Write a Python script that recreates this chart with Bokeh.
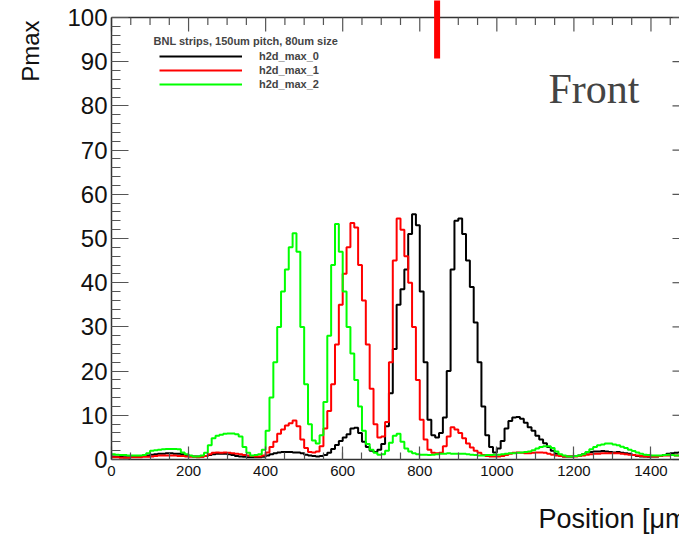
import numpy as np
from math import pi
from bokeh.plotting import figure
from bokeh.models import (LinearAxis, SingleIntervalTicker, Label, Legend, LegendItem, Range1d)
from bokeh.embed import file_html
from bokeh.resources import INLINE

# ---------------- data ----------------
bin_width = 10
x_start = 0
black_vals = [
    0.7,0.6,0.6,0.5,0.5,0.6,0.6,0.7,0.8,0.9,
    1.1,1.2,1.3,1.3,1.4,1.4,1.3,1.3,1.2,1.0,
    0.8,0.7,0.7,0.7,0.8,1.0,1.2,1.3,1.3,1.3,
    1.2,1.0,0.8,0.7,0.6,0.5,0.5,0.5,0.5,0.6,
    0.9,1.2,1.4,1.6,1.7,1.7,1.7,1.6,1.6,1.4,
    1.1,0.9,0.8,0.7,0.8,1.0,1.5,2.4,3.3,4.2,
    5.0,5.7,7.0,7.2,6.0,4.0,2.8,2.0,1.7,2.2,
    3.5,7.5,15,25,35,38.5,43,51,55.5,53,
    38,22,9,5.5,5,6,9.5,20,43,54,
    54.5,51,45,39,31,22,12,5.5,2.8,1.6,
    2.5,4.2,7.0,8.7,9.5,9.6,9.2,8.3,7.3,6.5,
    5.4,4.5,3.7,2.8,2.0,1.3,0.9,0.7,0.7,0.7,
    0.8,0.9,1.2,1.6,1.7,1.8,1.8,1.9,1.8,1.7,
    1.6,1.7,1.5,1.4,1.3,1.0,0.8,0.7,0.7,0.6,
    0.7,0.7,0.8,1.0,1.3,1.4,1.5,1.6,
]
red_vals = [
    0.5,0.5,0.4,0.4,0.4,0.5,0.5,0.5,0.6,0.6,
    0.7,0.8,0.9,0.9,0.9,0.9,0.9,0.8,0.8,0.7,
    0.6,0.6,0.5,0.6,0.8,1.2,1.5,1.6,1.5,1.6,
    1.5,1.4,1.3,1.2,1.0,0.9,0.8,0.7,0.7,0.9,
    1.6,2.8,4.0,5.8,6.8,7.7,8.2,8.8,7.5,4.5,
    2.6,1.7,1.6,1.8,3.0,7.0,11,17,26,35,
    42,48,53.5,52.5,44,36,26,16,8,5,
    5.2,8.5,22,45,54.5,52,46,40,30,18,
    9,4.5,2.2,1.5,1.4,1.5,3.0,5.2,7.3,6.8,
    6.0,4.8,3.6,2.7,2.0,1.5,1.0,0.8,0.7,0.7,
    0.7,0.8,1.0,1.3,1.5,1.6,1.5,1.4,1.4,1.5,
    1.6,1.6,1.5,1.3,1.1,0.9,0.8,0.7,0.7,0.7,
    0.7,0.8,0.9,1.1,1.2,1.3,1.3,1.4,1.4,1.4,
    1.4,1.4,1.3,1.2,1.1,1.0,0.9,0.8,0.7,0.7,
    0.7,0.7,0.8,0.9,0.9,1.0,0.9,0.9,
]
green_vals = [
    1.2,1.1,1.0,1.0,0.9,0.9,0.9,0.9,1.0,1.4,
    2.0,2.1,2.2,2.3,2.4,2.4,2.4,2.3,1.6,1.2,
    0.9,0.7,0.7,0.9,1.5,3.2,4.8,5.4,5.6,5.8,
    5.9,5.9,5.7,5.2,2.8,1.5,0.9,1.0,1.2,2.2,
    6.5,14,22,30,38,43,48,51.2,47,30,
    17,8,4.3,3.6,5.5,13,28,44,53.3,47,
    38,30,24,18,12,6.5,3.5,2.2,1.5,1.1,
    1.2,2.0,3.8,5.4,5.8,4.0,2.5,1.8,1.4,1.2,
    1.1,1.1,1.0,1.1,1.2,1.3,1.3,1.4,1.3,1.3,
    1.3,1.3,1.2,1.1,1.0,0.9,0.9,1.0,1.0,1.1,
    1.1,1.2,1.3,1.4,1.4,1.5,1.6,1.7,1.8,2.1,
    2.5,2.8,3.0,3.0,2.6,1.8,1.2,0.9,0.7,0.7,
    0.8,0.9,1.2,1.7,2.3,2.8,3.2,3.4,3.6,3.6,
    3.4,3.2,2.9,2.6,2.2,1.9,1.6,1.3,1.1,1.0,
    0.9,0.9,0.9,1.0,1.1,1.0,0.9,0.9,
]
series_names = ["h2d_max_0", "h2d_max_1", "h2d_max_2"]
series_colors = ["#000000", "#ff0000", "#00ff00"]
legend_title = "BNL strips, 150um pitch, 80um size"
x_label = "Position [μm]"
y_label = "Pmax"
tag_text = "Front"
marker_x = 845
marker_y = [90.7, 104]
x_axis_span = [0, 1500]
y_axis_span = [0, 100]

# ---------------- figure (frame = whole canvas, axes fixed in data space) ----------------
PX_X = 578 / 1500.0          # pixels per x unit
PX_Y = 442 / 100.0           # pixels per y unit
X0, Y0 = 111, 459            # pixel position of the data origin
W, H = 679, 536
x_rng = Range1d(-X0 / PX_X, (W - X0) / PX_X)
y_rng = Range1d(-(H - Y0) / PX_Y, Y0 / PX_Y)

p = figure(width=W, height=H, output_backend="svg", toolbar_location=None,
           x_range=x_rng, y_range=y_rng,
           min_border_left=0, min_border_right=0, min_border_top=0, min_border_bottom=0,
           x_axis_location=None, y_axis_location=None)
p.grid.visible = False
p.outline_line_color = None
p.background_fill_color = "white"
p.border_fill_color = "white"

AX_COL = "#333333"
TK_COL = "#555555"

def style(ax, tin, mtin):
    ax.major_tick_in = tin
    ax.major_tick_out = 0
    ax.minor_tick_in = mtin
    ax.minor_tick_out = 0
    ax.axis_line_color = AX_COL
    ax.axis_line_width = 1.5
    ax.major_tick_line_color = TK_COL
    ax.minor_tick_line_color = TK_COL
    ax.major_tick_line_width = 1.2
    ax.minor_tick_line_width = 1.2
    ax.major_label_text_font = "Liberation Sans"
    ax.major_label_text_color = "#111111"

bottom = LinearAxis(ticker=SingleIntervalTicker(interval=200, num_minor_ticks=4),
                    fixed_location=0, bounds=tuple(x_axis_span))
style(bottom, 13, 7)
bottom.major_label_text_font_size = "15px"
bottom.major_label_standoff = 6
p.add_layout(bottom, "below")

left = LinearAxis(ticker=SingleIntervalTicker(interval=10, num_minor_ticks=5),
                  fixed_location=0, bounds=tuple(y_axis_span))
style(left, 17, 9)
left.major_label_text_font_size = "24px"
left.major_label_standoff = 4
p.add_layout(left, "left")

# top and right frame edges with inward ticks (no labels)
xt_major = np.arange(x_axis_span[0], x_axis_span[1] + 1, 200)
xt_minor = np.setdiff1d(np.arange(x_axis_span[0], x_axis_span[1] + 1, 50), xt_major)
yt_major = np.arange(y_axis_span[0], y_axis_span[1] + 1, 10)
yt_minor = np.setdiff1d(np.arange(y_axis_span[0], y_axis_span[1] + 1, 2), yt_major)
ytop, xright = y_axis_span[1], x_axis_span[1]

p.segment(x0=[x_axis_span[0]], y0=[ytop], x1=[xright], y1=[ytop], line_color=AX_COL, line_width=1.5)
p.segment(x0=xt_major, y0=ytop, x1=xt_major, y1=ytop - 14 / PX_Y, line_color=TK_COL, line_width=1.2)
p.segment(x0=xt_minor, y0=ytop, x1=xt_minor, y1=ytop - 7.5 / PX_Y, line_color=TK_COL, line_width=1.2)
p.segment(x0=xright, y0=yt_major, x1=xright - 17 / PX_X, y1=yt_major, line_color=TK_COL, line_width=1.2)
p.segment(x0=xright, y0=yt_minor, x1=xright - 9 / PX_X, y1=yt_minor, line_color=TK_COL, line_width=1.2)

# ---------------- histograms ----------------
renderers = []
for vals, col in zip([black_vals, red_vals, green_vals], series_colors):
    n = len(vals)
    edges = x_start + bin_width * np.arange(n + 1)
    yy = list(vals) + [vals[-1]]
    r = p.step(x=edges, y=yy, mode="after", line_color=col, line_width=2)
    renderers.append(r)

legend = Legend(items=[LegendItem(label=nm, renderers=[r]) for nm, r in zip(series_names, renderers)],
                location=(159, 445), glyph_width=83, glyph_height=14, label_height=14,
                label_standoff=17, spacing=0, padding=0, margin=0,
                border_line_alpha=0, background_fill_alpha=0,
                label_text_font="Liberation Sans", label_text_font_size="11px",
                label_text_font_style="bold")
p.add_layout(legend)

# red marker line
p.segment(x0=[marker_x], y0=[marker_y[0]], x1=[marker_x], y1=[marker_y[1]],
          line_color="#ff0000", line_width=6)

def dx(px):
    return (px - X0) / PX_X

def dy(py):
    return (Y0 - py) / PX_Y

p.add_layout(Label(x=dx(153), y=dy(40), text=legend_title, text_font="Liberation Sans",
                   text_font_size="11px", text_font_style="bold", text_baseline="alphabetic"))

p.add_layout(Label(x=dx(548), y=dy(88.5), text=tag_text, text_font="Liberation Serif",
                   text_font_size="42px", text_baseline="alphabetic"))

p.add_layout(Label(x=dx(30), y=dy(20), text=y_label, angle=pi / 2, text_align="right",
                   text_baseline="alphabetic", text_font="Liberation Sans",
                   text_font_size="24px", text_color="#111111"))

p.add_layout(Label(x=dx(538), y=dy(518), text=x_label, text_baseline="alphabetic",
                   text_font="Liberation Sans", text_font_size="27px", text_color="#111111"))

open("out.html", "w").write(file_html(p, INLINE))
